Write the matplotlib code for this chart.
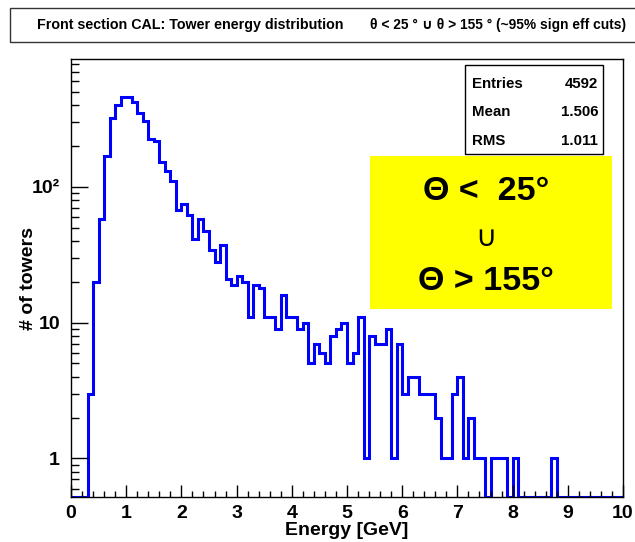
import numpy as np
import matplotlib
matplotlib.use("Agg")
import matplotlib.pyplot as plt
from matplotlib.patches import Rectangle
from matplotlib.ticker import FixedLocator, MultipleLocator, LogLocator, NullFormatter

plt.rcParams['font.family'] = ['Liberation Sans', 'DejaVu Sans']
plt.rcParams['font.weight'] = 'bold'

# histogram: 100 bins of 0.1 GeV between 0 and 10 GeV
e_min, e_max, n_bins = 0.0, 10.0, 100
counts = [
    0, 0, 0, 3, 20, 58, 168, 318, 401, 459,
    455, 417, 348, 305, 226, 215, 151, 131, 111, 67,
    75, 62, 41, 58, 47, 34, 28, 37, 21, 19,
    22, 20, 11, 19, 18, 11, 11, 9, 16, 11,
    11, 9, 10, 5, 7, 6, 5, 8, 9, 10,
    5, 6, 11, 1, 8, 7, 7, 9, 1, 7,
    3, 4, 4, 3, 3, 3, 2, 1, 1, 3,
    4, 1, 2, 1, 1, 0, 1, 1, 1, 0,
    1, 0, 0, 0, 0, 0, 0, 1, 0, 0,
    0, 0, 0, 0, 0, 0, 0, 0, 0, 0,
]
stat_names = ["Entries", "Mean", "RMS"]
stat_values = ["4592", "1.506", "1.011"]

title_left = "Front section CAL: Tower energy distribution"
title_right = "\u03b8 < 25 \u00b0 \u222a \u03b8 > 155 \u00b0 (~95% sign eff cuts)"
box_lines = ["\u0398 <  25\u00b0", "\u222a", "\u0398 > 155\u00b0"]

y_lo, y_hi = 0.52, 870

W, H = 635, 542
def fx(px):
    return px / W
def fy(py):
    return 1 - py / H

fig = plt.figure(figsize=(W / 100, H / 100), dpi=100)
fig.patch.set_facecolor('white')

ax = fig.add_axes([fx(71), fy(497), fx(623) - fx(71), fy(59) - fy(497)])
edges = np.linspace(e_min, e_max, n_bins + 1)
vals = np.array(counts, dtype=float)
# empty bins sit on the bottom of the frame, as ROOT draws them
vals = np.where(vals > 0, vals, y_lo)
ax.stairs(vals, edges, baseline=None, color='#0000ff', lw=2.2)

ax.set_yscale('log')
ax.set_xlim(e_min, e_max)
ax.set_ylim(y_lo, y_hi)

ax.xaxis.set_major_locator(MultipleLocator(1))
ax.xaxis.set_minor_locator(MultipleLocator(0.2))
ax.yaxis.set_major_locator(FixedLocator([1, 10, 100]))
ax.set_yticklabels(['1', '10', '10\u00b2'])
ax.yaxis.set_minor_locator(LogLocator(base=10, subs=np.arange(2, 10)))
ax.yaxis.set_minor_formatter(NullFormatter())

ax.tick_params(which='both', direction='in', top=False, right=False, labelsize=14, width=1)
ax.tick_params(axis='y', which='major', length=12, pad=8)
ax.tick_params(axis='y', which='minor', length=6)
ax.tick_params(axis='x', which='major', length=8.5, pad=6)
ax.tick_params(axis='x', which='minor', length=4.3)
for lab in ax.get_xticklabels() + ax.get_yticklabels():
    lab.set_fontweight('bold')
for sp in ax.spines.values():
    sp.set_linewidth(1.0)

ax.set_xlabel("Energy [GeV]", fontsize=14, fontweight='bold')
ax.xaxis.set_label_coords(0.5, -0.058)
ax.set_ylabel("# of towers", fontsize=14, fontweight='bold')
ax.yaxis.set_label_coords(-0.062, 0.5)

# title box (runs off the right edge like the original)
fig.patches.append(Rectangle((fx(10), fy(42)), fx(700) - fx(10), fy(8) - fy(42),
                             transform=fig.transFigure, facecolor='white',
                             edgecolor='#333333', lw=1.0))
fig.text(fx(37), fy(25), title_left, fontsize=10.3, fontweight='bold', va='center')
fig.text(fx(370), fy(25), title_right, fontsize=9.9, fontweight='bold', va='center')

# stats box
fig.patches.append(Rectangle((fx(465), fy(154)), fx(603) - fx(465), fy(65) - fy(154),
                             transform=fig.transFigure, facecolor='white',
                             edgecolor='black', lw=1.0, zorder=5))
for i, (n, v) in enumerate(zip(stat_names, stat_values)):
    yy = fy(84 + i * 28.5)
    fig.text(fx(472), yy, n, fontsize=10.8, fontweight='bold', va='center', zorder=6)
    fig.text(fx(598), yy, v, fontsize=10.8, fontweight='bold', va='center', ha='right', zorder=6)

# yellow label box
fig.patches.append(Rectangle((fx(370), fy(309)), fx(612) - fx(370), fy(156) - fy(309),
                             transform=fig.transFigure, facecolor='#ffff00',
                             edgecolor='none', zorder=5))
fig.text(fx(486), fy(192), box_lines[0], fontsize=24.5, fontweight='bold',
         ha='center', va='center', zorder=6)
fig.text(fx(486), fy(238), box_lines[1], fontsize=21, fontweight='normal',
         ha='center', va='center', zorder=6)
fig.text(fx(486), fy(281), box_lines[2], fontsize=24.5, fontweight='bold',
         ha='center', va='center', zorder=6)

fig.savefig("out.png", dpi=100)
